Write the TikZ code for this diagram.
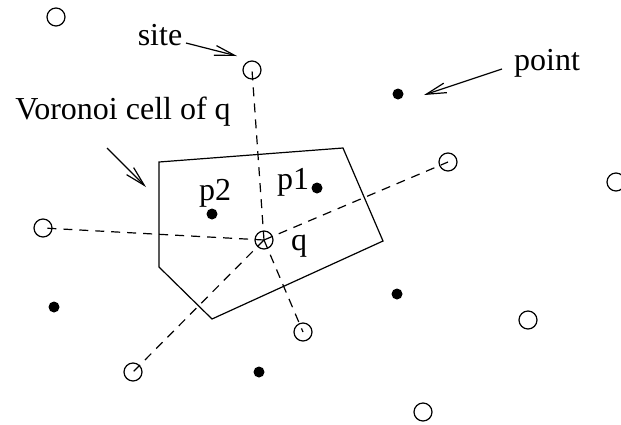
\documentclass[tikz,border=0pt]{standalone}
\usepackage{fontspec}
\setmainfont{Liberation Serif}
\usetikzlibrary{arrows.meta}
\begin{document}
\begin{tikzpicture}[x=1pt,y=-1pt,line width=1.2pt,
  site/.style={circle,draw,inner sep=0pt,minimum size=18pt},
  pt/.style={circle,fill,inner sep=0pt,minimum size=11pt},
  lbl/.style={font=\fontsize{32}{38}\selectfont,inner sep=0pt},
  link/.style={dash pattern=on 9pt off 7pt},
  pointer/.style={-{Straight Barb[length=20pt,width=10pt,line width=1.2pt]}}]
\useasboundingbox (0,0) rectangle (621,424);
% Voronoi cell
\coordinate (v1) at (159,162);
\coordinate (v2) at (343,148);
\coordinate (v3) at (383,241);
\coordinate (v4) at (212,319);
\coordinate (v5) at (159,267);
\draw (v1) -- (v2) -- (v3) -- (v4) -- (v5) -- cycle;
% sites
\node[site] (s0) at (56,17) {};
\node[site] (s1) at (252,70) {};
\node[site] (s2) at (448,162) {};
\node[site] (s3) at (616,182) {};
\node[site] (s4) at (43,228) {};
\node[site] (q) at (264,240) {};
\node[site] (s5) at (303,332) {};
\node[site] (s6) at (528,320) {};
\node[site] (s7) at (133,372) {};
\node[site] (s8) at (423,412) {};
% points
\node[pt] (a) at (398,94) {};
\node[pt] (p1) at (317,188) {};
\node[pt] (p2) at (212,214) {};
\node[pt] (b) at (54,307) {};
\node[pt] (c) at (397,294) {};
\node[pt] (d) at (259,372) {};
% dashed links
\foreach \s in {s1,s2,s4,s5,s7}
  \draw[link] (q.center) -- (\s.center);
% labels
\node[lbl] (tsite) at (160,35) {site};
\node[lbl] (tvor) at (123,112) {Voronoi cell of q};
\node[lbl] (tpoint) at (547,63) {point};
\node[lbl] (tp2) at (215,193) {p2};
\node[lbl] (tp1) at (293,182) {p1};
\node[lbl] (tq) at (299,246) {q};
% pointers
\coordinate (as) at (186,43);
\coordinate (ae) at (237,56);
\draw[pointer] (as) -- (ae);
\coordinate (bs) at (107,148);
\coordinate (be) at (146,187);
\draw[pointer] (bs) -- (be);
\coordinate (cs) at (502,69);
\coordinate (ce) at (424,95);
\draw[pointer] (cs) -- (ce);
\end{tikzpicture}
\end{document}
